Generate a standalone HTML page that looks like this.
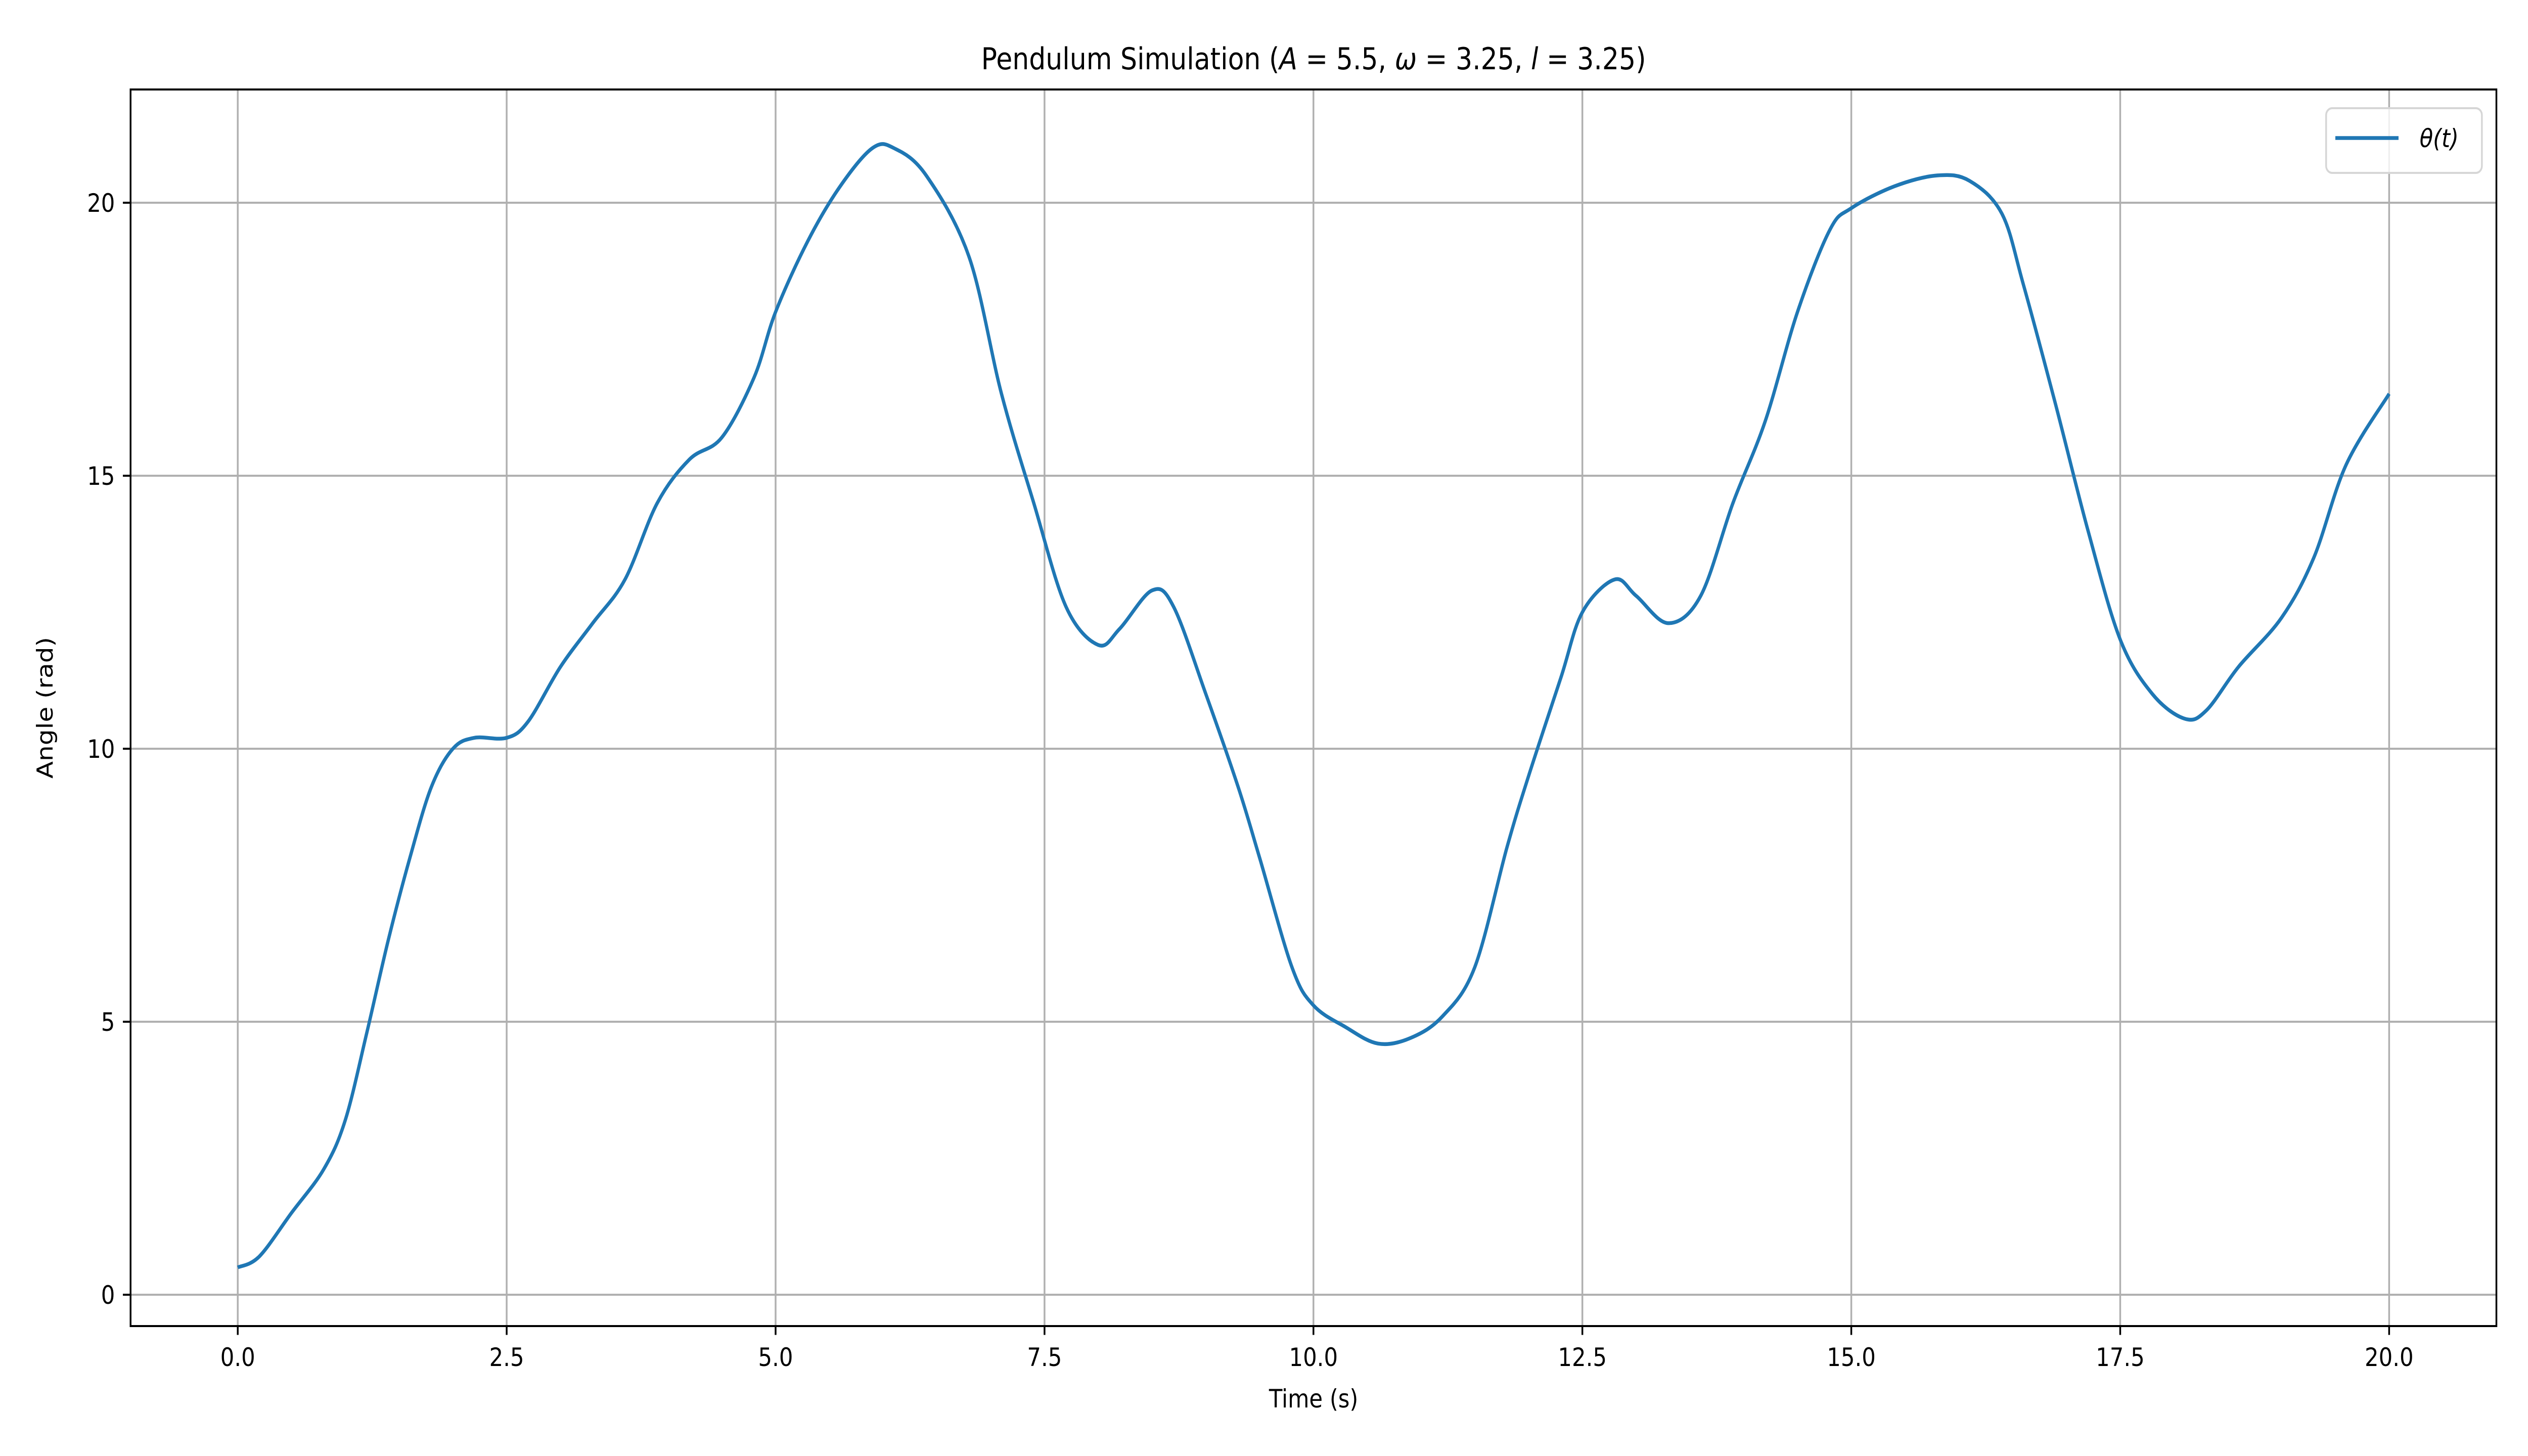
<!DOCTYPE html>
<html><head><meta charset="utf-8"><style>
html,body{margin:0;padding:0;background:#fff;overflow:hidden;width:100vw;height:100vh}
svg{display:block;width:100vw;height:100vh}
text{font-family:"DejaVu Sans","Liberation Sans",sans-serif;fill:#000}
</style></head><body>
<svg id="chart" viewBox="0 0 5760 2880" preserveAspectRatio="none" xmlns="http://www.w3.org/2000/svg">
<rect x="0" y="0" width="5760" height="2880" fill="#fff"/>
<g id="grid"></g>
<g id="series"></g>
<rect x="297.5" y="177" width="5390.5" height="2446" fill="none" stroke="#000" stroke-width="4"/>
<g id="ticks"></g>
<text x="2993" y="137" font-size="60" text-anchor="middle">Pendulum Simulation (<tspan font-style="italic">A</tspan> = 5.5, <tspan font-style="italic">ω</tspan> = 3.25, <tspan font-style="italic">l</tspan> = 3.25)</text>
<text x="2993" y="2784" font-size="50" text-anchor="middle">Time (s)</text>
<text x="0" y="0" font-size="50" text-anchor="middle" transform="translate(120,1400) rotate(-90)">Angle (rad)</text>
<g>
<rect x="5300" y="214" width="355" height="128" rx="14" fill="#fff" fill-opacity="0.8" stroke="#d6d6d6" stroke-width="4"/>
<line x1="5321" y1="273" x2="5465" y2="273" stroke="#1f77b4" stroke-width="7.5"/>
<text x="5513" y="291" font-size="50" font-style="italic">θ(t)</text>
</g>
</svg>
<script>
const times=[0,0.2,0.5,0.8,1.0,1.2,1.4,1.6,1.8,2.0,2.2,2.5,2.7,3.0,3.3,3.6,3.9,4.2,4.5,4.8,5.0,5.3,5.6,5.9,6.1,6.4,6.8,7.1,7.4,7.7,8.0,8.2,8.5,8.7,9.0,9.3,9.5,9.8,10.0,10.3,10.6,10.9,11.2,11.5,11.8,12.0,12.3,12.5,12.8,13.0,13.3,13.6,13.9,14.2,14.5,14.8,15.0,15.4,15.8,16.1,16.4,16.6,16.9,17.2,17.5,17.8,18.1,18.3,18.6,19.0,19.3,19.6,20.0];
const theta=[0.5,0.7,1.5,2.3,3.2,4.8,6.5,8.0,9.3,10.0,10.2,10.2,10.5,11.5,12.3,13.1,14.5,15.3,15.7,16.8,18.0,19.3,20.3,21.0,21.0,20.5,19.0,16.5,14.5,12.6,11.9,12.2,12.9,12.6,11.0,9.3,8.0,6.0,5.3,4.9,4.6,4.7,5.1,6.0,8.2,9.5,11.3,12.5,13.1,12.8,12.3,12.8,14.5,16.0,18.0,19.5,19.9,20.3,20.5,20.4,19.8,18.5,16.3,14.0,12.0,11.0,10.55,10.7,11.5,12.4,13.5,15.2,16.5];
const xTicks=[0,2.5,5,7.5,10,12.5,15,17.5,20];
const xTickLabels=["0.0","2.5","5.0","7.5","10.0","12.5","15.0","17.5","20.0"];
const yTicks=[0,5,10,15,20];
const yTickLabels=["0","5","10","15","20"];

const NS="http://www.w3.org/2000/svg";
function xs(t){return 541.7+(t-0)*(5443.6-541.7)/20;}
function ys(v){return 2561-(v-0)*(2561-401)/20;}
function mk(tag,attrs,parent){const e=document.createElementNS(NS,tag);for(const k in attrs)e.setAttribute(k,attrs[k]);parent.appendChild(e);return e;}
const grid=document.getElementById('grid'),ticks=document.getElementById('ticks'),series=document.getElementById('series');
xTicks.forEach((t,i)=>{
  const x=xs(t);
  const g=mk('line',{x1:x,y1:177,x2:x,y2:2623,stroke:'#b0b0b0','stroke-width':4},grid);
  
  
  const tk=mk('line',{x1:x,y1:2623,x2:x,y2:2640.5,stroke:'#000','stroke-width':4},ticks);
  
  
  const lb=mk('text',{x:x,y:2702,'font-size':50,'text-anchor':'middle'},ticks);
  lb.textContent=xTickLabels[i];
  
  
});
yTicks.forEach((v,i)=>{
  const y=ys(v);
  const g=mk('line',{x1:297.5,y1:y,x2:5688,y2:y,stroke:'#b0b0b0','stroke-width':4},grid);
  
  
  const tk=mk('line',{x1:280,y1:y,x2:297.5,y2:y,stroke:'#000','stroke-width':4},ticks);
  
  
  const lb=mk('text',{x:262,y:y+18,'font-size':50,'text-anchor':'end'},ticks);
  lb.textContent=yTickLabels[i];
  
  
});
const P=times.map((t,i)=>[xs(t),ys(theta[i])]);
let d='M'+P[0][0]+','+P[0][1];
for(let i=0;i<P.length-1;i++){
  const p0=P[Math.max(0,i-1)],p1=P[i],p2=P[i+1],p3=P[Math.min(P.length-1,i+2)];
  const c1=[p1[0]+(p2[0]-p0[0])/6,p1[1]+(p2[1]-p0[1])/6];
  const c2=[p2[0]-(p3[0]-p1[0])/6,p2[1]-(p3[1]-p1[1])/6];
  d+=' C'+c1[0]+','+c1[1]+' '+c2[0]+','+c2[1]+' '+p2[0]+','+p2[1];
}
const line=mk('path',{d:d,fill:'none',stroke:'#1f77b4','stroke-width':7.5,'stroke-linejoin':'round','stroke-linecap':'butt'},series);


</script>
</body></html>
